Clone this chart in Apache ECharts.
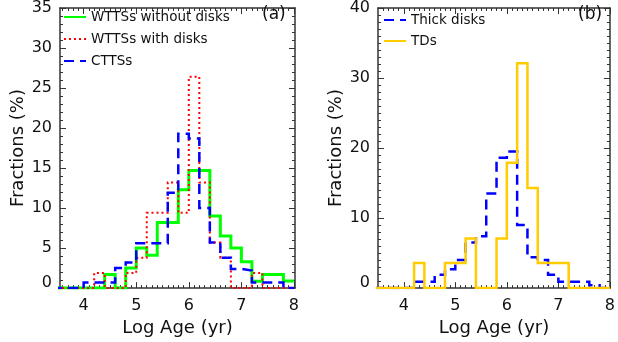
<!DOCTYPE html>
<html><head><meta charset="utf-8">
<script src="https://cdn.jsdelivr.net/npm/echarts@6/dist/echarts.min.js"></script>
<style>html,body{margin:0;padding:0;background:#fff}#c{width:618px;height:342px}</style>
</head><body><div id="c"></div>
<script>
// Histogram bins: left edges (log age), width 0.2 dex
const ageBinLeft = [3.4,3.6,3.8,4.0,4.2,4.4,4.6,4.8,5.0,5.2,5.4,5.6,5.8,6.0,6.2,6.4,6.6,6.8,7.0,7.2,7.4,7.6,7.8];
const binWidth = 0.2;
// Fractions (%) per bin
const wttsNoDisks = [0,0,0,0,0,1.7,0,2.5,5.0,4.1,8.2,8.2,12.3,14.7,14.7,9.0,6.5,5.0,3.3,0.85,1.7,1.7,0.9];
const wttsDisks   = [0,0,0,0,1.9,0,0,1.9,3.8,9.4,9.4,13.2,9.4,26.4,13.2,5.7,3.8,0,0,1.9,0,0,0];
const ctts        = [0,0,0,0.7,0.7,0.7,2.5,3.2,5.6,5.6,5.6,11.9,19.3,18.7,10.0,5.7,3.8,2.4,2.2,0.7,0.7,0.7,0];
const thickDisks  = [0,0,0,0,0.9,0.9,1.9,2.7,4.0,6.5,7.4,13.5,18.6,19.5,9.0,4.4,4.0,1.9,0.9,0.9,0.9,0.4,0];
const tds         = [0,0,0,0,3.6,0,0,3.6,3.6,7.1,0,0,7.1,17.9,32.1,14.3,3.6,3.6,3.6,0,0,0,0];
// Axis ticks
const xMajorTicks = [4,5,6,7,8];
const xMinorTicks = [];
for (let k = 36; k <= 80; k++) { if (k % 10 !== 0) xMinorTicks.push(k / 10); }
const xNameText = 'Log Age (yr)';
const yNameText = 'Fractions (%)';

const FONT = 'DejaVu Sans';
const frame = { show: true, onZero: false, lineStyle: { color: '#333', width: 1.5 } };
const noLine = { show: false, onZero: false };

function steps(vals) {
  const pts = vals.map((v, i) => [ageBinLeft[i], v]);
  pts.push([+(ageBinLeft[vals.length - 1] + binWidth).toFixed(2), vals[vals.length - 1]]);
  return pts;
}

function xAxesFor(g, min, max) {
  const tl = { color: '#333', width: 1 };
  return [
    { gridIndex: g, type: 'value', min, max, position: 'bottom',
      axisLine: frame, splitLine: { show: false },
      axisTick: { show: true, inside: true, length: 6, customValues: xMajorTicks, lineStyle: tl },
      axisLabel: { customValues: xMajorTicks, margin: 10, fontSize: 16, fontFamily: FONT, color: '#111',
        formatter: v => Number.isInteger(v) ? String(v) : '' },
      name: xNameText, nameLocation: 'middle', nameGap: 30,
      nameTextStyle: { fontSize: 18, fontFamily: FONT, color: '#111' } },
    { gridIndex: g, type: 'value', min, max, position: 'top',
      axisLine: frame, splitLine: { show: false }, axisLabel: { show: false },
      axisTick: { show: true, inside: true, length: 6, customValues: xMajorTicks, lineStyle: tl } },
    { gridIndex: g, type: 'value', min, max, position: 'bottom',
      axisLine: noLine, splitLine: { show: false }, axisLabel: { show: false },
      axisTick: { show: true, inside: true, length: 3, customValues: xMinorTicks, lineStyle: tl } },
    { gridIndex: g, type: 'value', min, max, position: 'top',
      axisLine: noLine, splitLine: { show: false }, axisLabel: { show: false },
      axisTick: { show: true, inside: true, length: 3, customValues: xMinorTicks, lineStyle: tl } }
  ];
}

function yAxesFor(g, max, interval, minorSplit, nameGap) {
  const tick = { show: true, inside: true, length: 6, lineStyle: { color: '#333', width: 1 } };
  const minor = { show: true, splitNumber: minorSplit, length: 3, lineStyle: { color: '#333', width: 1 } };
  return [
    { gridIndex: g, type: 'value', min: 0, max, interval, position: 'left',
      axisLine: frame, splitLine: { show: false }, axisTick: tick, minorTick: minor, minorSplitLine: { show: false },
      axisLabel: { margin: 8, fontSize: 16, fontFamily: FONT, color: '#111',
        formatter: v => v === 0 ? '{z|0}' : String(v),
        rich: { z: { fontSize: 16, fontFamily: FONT, color: '#111', padding: [0, 0, 10, 0] } } },
      name: yNameText, nameLocation: 'middle', nameGap,
      nameTextStyle: { fontSize: 18, fontFamily: FONT, color: '#111' } },
    { gridIndex: g, type: 'value', min: 0, max, interval, position: 'right',
      axisLine: frame, splitLine: { show: false }, axisTick: tick, minorTick: minor, minorSplitLine: { show: false },
      axisLabel: { show: false } }
  ];
}

function histSeries(name, vals, xi, yi, color, width, type) {
  return { name, type: 'line', xAxisIndex: xi, yAxisIndex: yi, data: steps(vals), step: 'end',
    symbol: 'none', clip: true, animation: false, color,
    lineStyle: { color, width, type, cap: 'butt', join: 'miter' } };
}

const legendCommon = { orient: 'vertical', itemWidth: 22, itemHeight: 14, padding: 0, selectedMode: false,
  itemStyle: { opacity: 0 }, textStyle: { fontSize: 13.5, fontFamily: FONT, color: '#111' } };

const chart = echarts.init(document.getElementById('c'), null, { renderer: 'canvas' });
chart.setOption({
  animation: false,
  backgroundColor: '#fff',
  grid: [
    { left: 60, top: 3, width: 235, height: 286 },
    { left: 378, top: 3, width: 233, height: 286 }
  ],
  xAxis: [...xAxesFor(0, 3.55, 8.02), ...xAxesFor(1, 3.5, 8.0)],
  yAxis: [...yAxesFor(0, 35, 5, 5, 33), ...yAxesFor(1, 40, 10, 10, 32)],
  legend: [
    Object.assign({ data: ['WTTSs without disks', 'WTTSs with disks', 'CTTSs'], left: 63, top: 10, itemGap: 8 }, legendCommon),
    Object.assign({ data: ['Thick disks', 'TDs'], left: 383, top: 13, itemGap: 7 }, legendCommon)
  ],
  title: [
    { text: '(a)', left: 262, top: 6, padding: 0, textStyle: { fontSize: 17, fontWeight: 'normal', fontFamily: FONT, color: '#111' } },
    { text: '(b)', left: 578, top: 6, padding: 0, textStyle: { fontSize: 17, fontWeight: 'normal', fontFamily: FONT, color: '#111' } }
  ],
  series: [
    histSeries('WTTSs without disks', wttsNoDisks, 0, 0, '#00ff00', 3, 'solid'),
    histSeries('WTTSs with disks', wttsDisks, 0, 0, '#ff0000', 2, [2, 3]),
    histSeries('CTTSs', ctts, 0, 0, '#0000ff', 2.5, [10, 6]),
    histSeries('Thick disks', thickDisks, 4, 2, '#0000ff', 2.5, [10, 6]),
    histSeries('TDs', tds, 4, 2, '#ffcc00', 2.5, 'solid')
  ]
});
</script></body></html>
